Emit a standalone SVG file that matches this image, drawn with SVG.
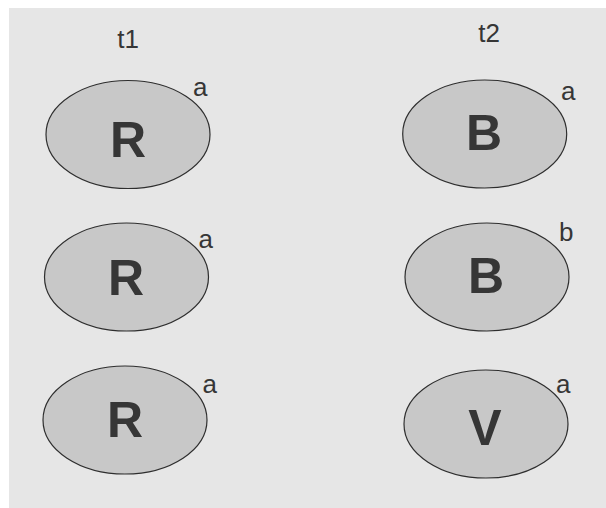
<svg xmlns="http://www.w3.org/2000/svg" width="606" height="508" viewBox="0 0 606 508">
<style>
.node ellipse{fill:#c8c8c8;stroke:#2e2e2e;stroke-width:1.2}
.big{font-family:"Liberation Sans",Arial,sans-serif;font-weight:bold;font-size:50px;fill:#363636;text-anchor:middle}
.sm{font-family:"Liberation Sans",Arial,sans-serif;font-size:26px;fill:#363636}
.hd{font-family:"Liberation Sans",Arial,sans-serif;font-size:26px;fill:#363636;text-anchor:middle}
</style>
<rect x="0" y="0" width="606" height="508" fill="#ffffff"/>
<rect x="9" y="8" width="597" height="500" fill="#e6e6e6"/>
<text class="hd" x="128" y="48">t1</text>
<text class="hd" x="489" y="42">t2</text>
<g id="connectors"></g>
<g id="n1" class="node"><ellipse cx="128" cy="134.5" rx="82" ry="54"/><text class="big" x="128" y="157">R</text><text class="sm" x="193" y="96">a</text></g>
<g id="n2" class="node"><ellipse cx="126.5" cy="277" rx="82" ry="54"/><text class="big" x="126" y="295">R</text><text class="sm" x="198.5" y="248">a</text></g>
<g id="n3" class="node"><ellipse cx="125" cy="420" rx="82" ry="54"/><text class="big" x="125" y="437">R</text><text class="sm" x="202.5" y="393">a</text></g>
<g id="n4" class="node"><ellipse cx="484.7" cy="134" rx="82" ry="54"/><text class="big" x="484" y="150">B</text><text class="sm" x="561" y="100">a</text></g>
<g id="n5" class="node"><ellipse cx="487" cy="277" rx="82" ry="54"/><text class="big" x="486" y="293">B</text><text class="sm" x="559" y="241">b</text></g>
<g id="n6" class="node"><ellipse cx="486" cy="424" rx="82" ry="54"/><text class="big" x="485" y="445">V</text><text class="sm" x="556" y="393">a</text></g>
</svg>
